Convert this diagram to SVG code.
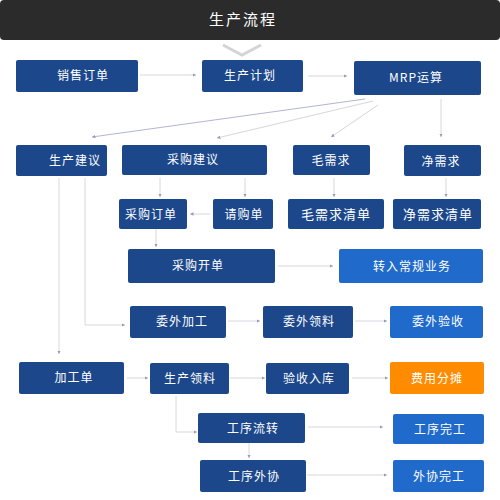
<svg xmlns="http://www.w3.org/2000/svg" width="500" height="500" viewBox="0 0 500 500">
<style>
.n{fill:#1c478a}
.l{fill:#1f6acb}
.o{fill:#ff8c00}
text{font-family:"Noto Sans CJK SC","Liberation Sans",sans-serif;fill:#fff;font-size:12px;letter-spacing:1px;text-anchor:middle}
.c{fill:none;stroke:#d6d6e0;stroke-width:1}
.p{stroke:#b4b4d4}
</style>
<defs>
<marker id="a" viewBox="0 0 6 6" refX="6" refY="3" markerWidth="3.5" markerHeight="3.5" orient="auto" markerUnits="userSpaceOnUse">
<path d="M0,0L6,3L0,6z" fill="#9898b8"/>
</marker>
</defs>
<rect x="0" y="0" width="500" height="40" rx="4" fill="#2b2b2b"/>
<text x="243" y="25" style="font-size:15px;letter-spacing:2px">生产流程</text>
<polyline points="223,45 242,55 261,45" fill="none" stroke="#d4d4d4" stroke-width="3"/>
<g id="connectors" marker-end="url(#a)">
<line class="c" x1="140" y1="75" x2="196" y2="75"/>
<line class="c" x1="308" y1="76" x2="347" y2="76"/>
<line class="c p" x1="365" y1="99" x2="92" y2="137"/>
<line class="c" x1="373" y1="101" x2="217" y2="138"/>
<line class="c" x1="378" y1="105" x2="331" y2="137"/>
<line class="c" x1="441" y1="99" x2="441" y2="137"/>
<line class="c" x1="160" y1="178" x2="160" y2="197"/>
<line class="c" x1="245" y1="178" x2="245" y2="197"/>
<line class="c" x1="210" y1="214" x2="190" y2="214"/>
<line class="c" x1="334" y1="178" x2="334" y2="197"/>
<line class="c" x1="446" y1="178" x2="446" y2="197"/>
<line class="c" x1="156" y1="229" x2="156" y2="247"/>
<line class="c" x1="278" y1="266" x2="333" y2="266"/>
<polyline class="c" points="85,178 85,325 125,325"/>
<line class="c" x1="59" y1="178" x2="59" y2="354"/>
<line class="c" x1="228" y1="321" x2="260" y2="321"/>
<line class="c" x1="355" y1="321" x2="387" y2="321"/>
<line class="c" x1="127" y1="378" x2="148" y2="378"/>
<line class="c" x1="230" y1="378" x2="265" y2="378"/>
<line class="c" x1="352" y1="378" x2="388" y2="378"/>
<polyline class="c" points="176,396 176,432 197,432"/>
<line class="c" x1="308" y1="427" x2="383" y2="427"/>
<line class="c" x1="249" y1="443" x2="249" y2="458"/>
<line class="c" x1="307" y1="475" x2="387" y2="475"/>
</g>
<g id="n1"><rect class="n" x="16" y="60" width="122" height="32" rx="2"/><text x="83" y="80">销售订单</text></g>
<g id="n2"><rect class="n" x="202" y="60" width="101" height="32" rx="2"/><text x="250" y="80">生产计划</text></g>
<g id="n3"><rect class="n" x="354" y="61" width="127" height="34" rx="2"/><text x="416" y="82">MRP运算</text></g>
<g id="n4"><rect class="n" x="16" y="145" width="91" height="31" rx="2"/><text x="75" y="165">生产建议</text></g>
<g id="n5"><rect class="n" x="122" y="145" width="145" height="30" rx="2"/><text x="193" y="164">采购建议</text></g>
<g id="n6"><rect class="n" x="293" y="145" width="77" height="30" rx="2"/><text x="331" y="165">毛需求</text></g>
<g id="n7"><rect class="n" x="404" y="145" width="77" height="31" rx="2"/><text x="441" y="166">净需求</text></g>
<g id="n8"><rect class="n" x="119" y="199" width="68" height="30" rx="2"/><text x="151" y="219">采购订单</text></g>
<g id="n9"><rect class="n" x="213" y="199" width="60" height="30" rx="2"/><text x="244" y="219">请购单</text></g>
<g id="n10"><rect class="n" x="288" y="199" width="96" height="30" rx="2"/><text x="336" y="219" style="font-size:13px">毛需求清单</text></g>
<g id="n11"><rect class="n" x="393" y="199" width="88" height="30" rx="2"/><text x="438" y="219" style="font-size:13px">净需求清单</text></g>
<g id="n12"><rect class="n" x="128" y="249" width="147" height="34" rx="2"/><text x="198" y="270">采购开单</text></g>
<g id="n13"><rect class="l" x="339" y="249" width="144" height="34" rx="2"/><text x="412" y="271">转入常规业务</text></g>
<g id="n14"><rect class="n" x="130" y="306" width="96" height="32" rx="2"/><text x="182" y="326">委外加工</text></g>
<g id="n15"><rect class="n" x="263" y="306" width="90" height="32" rx="2"/><text x="309" y="326">委外领料</text></g>
<g id="n16"><rect class="l" x="390" y="306" width="93" height="32" rx="2"/><text x="438" y="326">委外验收</text></g>
<g id="n17"><rect class="n" x="19" y="362" width="105" height="32" rx="2"/><text x="74" y="382">加工单</text></g>
<g id="n18"><rect class="n" x="150" y="363" width="79" height="31" rx="2"/><text x="190" y="383">生产领料</text></g>
<g id="n19"><rect class="n" x="266" y="363" width="83" height="31" rx="2"/><text x="309" y="383">验收入库</text></g>
<g id="n20"><rect class="o" x="390" y="362" width="94" height="32" rx="2"/><text x="437" y="383">费用分摊</text></g>
<g id="n21"><rect class="n" x="198" y="413" width="107" height="30" rx="2"/><text x="253" y="433">工序流转</text></g>
<g id="n22"><rect class="l" x="393" y="414" width="91" height="30" rx="2"/><text x="440" y="434">工序完工</text></g>
<g id="n23"><rect class="n" x="200" y="460" width="106" height="32" rx="2"/><text x="254" y="481">工序外协</text></g>
<g id="n24"><rect class="l" x="393" y="460" width="91" height="32" rx="2"/><text x="439" y="481">外协完工</text></g>
</svg>
